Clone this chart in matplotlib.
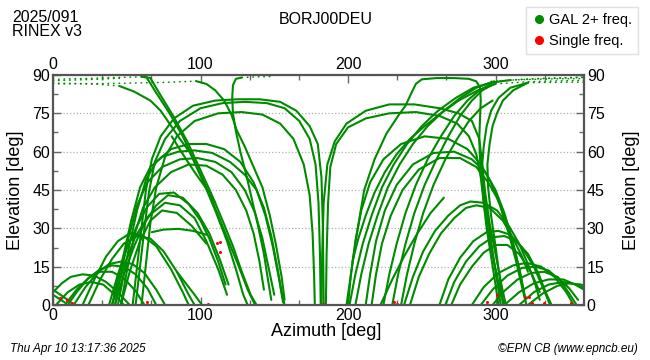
import matplotlib
matplotlib.use("Agg")
import matplotlib.pyplot as plt
from matplotlib.lines import Line2D
from matplotlib.ticker import MultipleLocator

plt.rcParams['font.family'] = ['Liberation Sans', 'DejaVu Sans']

GREEN = '#008a00'
RED = '#ff0000'

# satellite tracks: (azimuth list, elevation list)
west_low = [
    ([0, 5, 10, 14], [6, 4, 2, 0]),
    ([0, 4, 8], [4, 2.5, 1]),
    ([0, 6, 12, 20, 28, 36, 44, 52], [5, 8.5, 11, 12, 11.5, 9, 5, 0]),
    ([2, 10, 18, 26, 34, 42, 48], [0, 5, 8, 9, 8, 4, 0]),
    ([8, 16, 24, 32, 40, 48, 56, 62], [0, 6, 10.5, 13, 13, 10.5, 5.5, 0]),
    ([10, 16, 24, 32, 40, 48, 56, 64, 70], [0, 5, 10.5, 14, 15.5, 15, 12, 6.5, 0]),
    ([14, 22, 30, 38, 46, 54, 62, 70, 76], [0, 7, 12.5, 16, 17, 16, 12.5, 6, 0]),
    ([24, 32, 40, 48, 57, 66, 75, 84, 92, 96], [0, 10, 18, 24, 27, 26, 21, 13, 4, 0]),
    ([20, 28, 36, 44, 52, 60, 70, 80, 88, 92], [0, 10, 19, 25, 28, 27.5, 23, 14, 5, 0]),
    ([67, 75, 85, 95, 104], [28.5, 29.5, 29.8, 29, 27.5]),
    ([84, 90, 96, 101], [13, 8.5, 4, 0]),
]

west_mid = [
    ([38, 44, 50, 57, 64, 72, 82, 92, 100, 106, 112, 117], [0, 12, 22, 31, 38.5, 43.5, 44, 39.5, 33, 26, 17, 8]),
    ([42, 48, 55, 62, 70, 78, 88, 98, 106, 113, 119], [0, 12, 23, 32, 39, 43, 42, 36, 28, 18, 8]),
    ([40, 48, 56, 65, 76, 86, 96, 104, 112, 118], [0, 15, 27, 35, 40, 39, 34, 25, 14, 4]),
    ([46, 52, 59, 66, 74, 84, 94, 104], [0, 13, 25, 33, 37, 36, 31, 24]),
]

west_high = [
    ([40, 44, 48, 53, 59, 66, 74, 85, 96, 108, 120, 130, 138, 144, 149, 153, 156],
     [0, 10, 20, 33, 46, 54, 58, 60, 60.5, 59.5, 56, 51, 45, 35, 23, 11, 1]),
    ([44, 48, 52, 57, 63, 70, 80, 92, 104, 116, 127, 136, 143, 148, 152, 155, 157],
     [0, 12, 24, 37, 49, 56, 61, 63, 63, 61, 56, 48, 38, 27, 15, 5, 0]),
    ([42, 46, 51, 57, 64, 74, 86, 98, 110, 121, 130, 137, 142, 146, 150],
     [0, 12, 26, 39, 48, 54, 57, 57.5, 56, 52, 45, 36, 26, 15, 4]),
    ([46, 50, 55, 61, 69, 80, 92, 104, 115, 124, 131, 136, 140, 143],
     [0, 13, 27, 38, 46, 52, 55, 54.5, 51, 45, 37, 28, 17, 6]),
    ([54, 57, 60, 63, 67, 73, 82, 95, 110, 125, 140, 154, 165, 174, 179.5, 182, 183, 183.5],
     [0, 15, 30, 45, 57, 66, 73, 78, 80, 80.5, 80.5, 79.5, 76, 70, 63, 50, 30, 0]),
    ([56, 59, 62, 65, 69, 76, 86, 100, 115, 130, 145, 157, 167, 174, 178, 180, 181, 181.5],
     [0, 15, 30, 44, 56, 65, 72, 77, 79, 79.5, 79, 77, 72, 65, 55, 40, 20, 0]),
    ([60, 63, 66, 70, 76, 84, 96, 112, 128, 142, 154, 163, 170, 174, 176, 177, 177.5],
     [0, 16, 32, 46, 58, 66, 72, 75, 75.5, 74.5, 71, 65, 55, 43, 28, 12, 0]),
]

west_steep = [
    ([60, 63.5, 70, 79, 88, 96, 104, 112, 119, 126, 132, 137], [89.3, 89, 83, 75, 66, 56, 46, 35, 25, 15, 6, 0]),
    ([62, 66, 73, 82, 91, 99, 107, 115, 122, 128, 134, 138], [89.3, 88.8, 82, 73.5, 64, 54, 44, 33, 23, 13, 4, 0]),
    ([80.5, 88, 96, 104, 110], [66, 59, 52, 45.5, 40]),
    ([45, 55, 66, 73, 79, 86, 93, 102, 110, 118, 124, 129, 132], [85.7, 83.5, 80, 76, 71, 65, 59.5, 48, 37, 25, 14, 4, 0]),
    ([97, 104, 110, 116, 121, 124.5, 130, 136, 142, 147, 151, 155, 157], [87.6, 86.5, 84, 80, 74.5, 68.5, 62, 54, 46, 35, 24, 11, 2]),
    ([128, 124, 122, 121.5, 122, 124, 127, 131, 135, 139, 143, 146, 148], [89, 88.5, 86, 81, 75, 68, 60, 51, 41, 31, 20, 9, 2]),
]

east_high = [
    ([182, 182.5, 183.5, 186, 191, 199, 212, 228, 245, 262, 275, 284, 289, 291, 293, 296, 300, 304, 307],
     [0, 20, 40, 55, 64, 71, 76, 78.5, 78.5, 77, 75, 72, 65, 55, 44, 32, 20, 8, 0]),
    ([185, 185.5, 186.5, 188, 192, 200, 212, 228, 246, 262, 274, 282, 287, 290, 292, 295, 299, 303, 306],
     [0, 20, 40, 54, 63, 69.5, 73, 75, 75.5, 74, 71, 66, 59, 50, 40, 29, 17, 6, 0]),
    ([200, 202, 205, 209, 215, 224, 236, 252, 268, 281, 290, 297, 303, 309, 314, 318, 321],
     [0, 12, 25, 37, 48, 57, 63, 66, 65, 61, 55, 48, 39, 28, 17, 7, 0]),
    ([212, 215, 219, 225, 233, 244, 258, 272, 284, 293, 300, 306, 311, 316, 320],
     [0, 12, 25, 37, 47, 55, 59.5, 60, 57, 52, 45, 36, 26, 14, 3]),
    ([216, 219, 223, 229, 237, 248, 262, 276, 287, 295, 302, 308, 313, 317, 320],
     [0, 12, 24, 35, 45, 53, 57.5, 57.5, 54, 48, 41, 32, 22, 12, 3]),
]

east_mid = [
    ([238, 244, 251, 259, 268, 276, 283, 292, 301, 309, 316, 322, 327, 330], [0, 11, 21, 29, 35, 39, 40.5, 40, 37, 31, 24, 16, 8, 2]),
    ([242, 248, 255, 263, 272, 280, 287, 296, 305, 312, 318, 322], [0, 11, 20, 28, 34, 38, 39, 38, 33, 26, 19, 13]),
    ([222, 230, 238, 247, 256, 265], [0, 10, 19, 28, 36, 42]),
]

east_low = [
    ([262, 268, 276, 285, 294, 302, 310, 318, 326, 332, 337], [0, 10, 18.5, 25, 28.5, 29, 27.5, 22.5, 15, 7, 0]),
    ([266, 272, 280, 289, 298, 306, 314, 322, 329, 334, 338], [0, 9, 17, 23, 26.5, 27, 25, 20, 12.5, 5, 0]),
    ([270, 276, 284, 292, 300, 308, 316, 324, 330], [0, 8, 15, 20.5, 23.5, 23.5, 20, 13, 5]),
    ([284, 292, 302, 312, 321, 331, 340, 348, 353], [0, 7, 12.5, 15.5, 16.5, 15, 11, 5, 0]),
    ([290, 298, 308, 318, 327, 336, 344, 350, 355], [0, 6, 11.5, 14.5, 15, 13.5, 9.5, 4.5, 0]),
    ([298, 306, 315, 324, 333, 342, 350, 356], [0, 5.5, 10, 12.5, 13, 11, 6.5, 2]),
    ([306, 316, 326, 336, 346, 354, 360], [0, 5, 8.5, 10, 10, 8, 6]),
    ([316, 326, 336, 346, 355, 360], [0, 5, 8, 9, 8, 6.5]),
    ([322, 332, 342, 350, 358, 360], [0, 4.5, 7.5, 8.5, 8, 7.5]),
]

east_steep = [
    ([201, 205, 210, 216, 223, 231, 240, 250, 261, 273, 285, 297, 310], [0, 12, 24, 35, 46, 55, 63, 70, 76, 81, 85, 87, 88]),
    ([205, 209, 214, 220, 227, 235, 244, 254, 265, 276, 287, 299], [0, 12, 24, 35, 46, 55, 63, 70, 76, 81, 85, 87.5]),
    ([203, 207, 212, 218, 225, 233, 242, 252, 263, 275, 288, 300], [17, 26, 35, 44, 52, 59, 65, 70, 75, 80, 84, 86.5]),
    ([224, 228, 233, 239, 246, 254, 263, 272, 281, 289, 297], [0, 12, 24, 36, 47, 57, 66, 74, 80, 84, 86.5]),
    ([230, 234, 239, 245, 252, 260, 268, 276, 284, 291, 299], [0, 12, 24, 36, 47, 57, 66, 74, 80, 84, 86.5]),
    ([236, 240, 245, 251, 258, 266, 274, 282, 290, 298], [0, 12, 24, 36, 47, 57, 65, 72, 77, 80]),
    ([199, 202, 206, 211, 218, 226, 234, 239, 243, 246, 250, 260, 272, 282, 287, 289.5, 290, 289.5, 289, 289.5, 291, 293, 296, 299, 302, 303.5],
     [0, 12, 28, 45, 57, 67, 74, 78, 83, 86.5, 88.3, 88.8, 88.8, 88.5, 87.5, 85, 80, 73, 65, 57, 49, 40, 29, 17, 6, 0]),
    ([322, 310, 302, 297, 294, 292, 291, 291, 292, 294, 297, 300, 302], [87, 85, 81, 76, 70, 62, 55, 48, 40, 30, 19, 8, 0]),
    ([322, 312, 305, 301, 298, 296, 294.5, 295, 297, 300, 303, 305], [87, 84, 80, 75, 70, 63, 55, 46, 35, 23, 10, 0]),
]

# near-zenith parts, drawn as sparse dots
zenith_tracks = [
    ([0, 10, 20, 30, 40, 50, 60], [88.3, 88.5, 88.6, 88.8, 89, 89.1, 89.3]),
    ([0, 12, 24, 36, 45], [87.8, 88, 88.2, 88.5, 88.7]),
    ([0, 15, 30, 45], [86.8, 86.7, 86.4, 85.7]),
    ([0, 25, 50, 75, 97], [86.5, 86.6, 86.8, 87.1, 87.6]),
    ([128, 135, 142, 148], [89, 89.2, 89.3, 89.4]),
    ([297, 310, 325, 340, 360], [87.5, 88, 88.3, 88.5, 88.6]),
    ([299, 315, 330, 345, 360], [87.5, 88.2, 88.6, 88.8, 89]),
    ([310, 325, 340, 360], [88, 88.5, 88.8, 89.2]),
    ([300, 320, 335, 350, 360], [86.5, 87.3, 87.6, 87.8, 87.9]),
    ([322, 335, 350, 360], [87, 87.1, 87.2, 87.2]),
]

single_az = [4.5, 9.4, 13, 64, 105, 111, 113, 113, 183, 231.5, 233.5, 294.5, 301, 320, 323, 324.5, 333, 351]
single_el = [2.7, 2, 0.8, 1, 0.3, 24.3, 24.6, 20.7, 0.5, 1, 0.4, 1, 4, 3, 3, 0.8, 0.8, 0.8]

x_major = [0, 100, 200, 300]
y_major = [0, 15, 30, 45, 60, 75, 90]

fig = plt.figure(figsize=(6.5, 3.6), dpi=100)
ax = fig.add_axes([53 / 650, 55 / 360, 531 / 650, 230 / 360])

for group in [west_low, west_mid, west_high, west_steep, east_high, east_mid, east_low, east_steep]:
    for az, el in group:
        ax.plot(az, el, color=GREEN, lw=1.5, solid_capstyle='round', solid_joinstyle='round')

for az, el in zenith_tracks:
    ax.plot(az, el, color=GREEN, lw=1.1, ls=(0, (0.4, 3.2)), dash_capstyle='round')

ax.plot(single_az, single_el, 'o', color=RED, ms=2.2, mew=0, clip_on=False)

ax.set_xlim(0, 360)
ax.set_ylim(0, 90)
ax.set_xticks(x_major)
ax.set_yticks(y_major)
ax.xaxis.set_minor_locator(MultipleLocator(100 / 3))
ax.yaxis.set_minor_locator(MultipleLocator(7.5))
ax.tick_params(which='both', direction='in', top=True, right=True, labeltop=True, labelright=True,
               colors='#666666', labelcolor='black', labelsize=11.5, pad=2)
ax.tick_params(which='major', length=6, width=1)
ax.tick_params(which='minor', length=3.5, width=1)
ax.yaxis.grid(True, ls=':', color='#b0b0b0', lw=0.9)
for s in ax.spines.values():
    s.set_color('#555555')
    s.set_linewidth(1.6)

fig.text(16 / 650, 1 - 190 / 360, 'Elevation [deg]', rotation=90, ha='center', va='center', fontsize=13)
fig.text(632 / 650, 1 - 190 / 360, 'Elevation [deg]', rotation=90, ha='center', va='center', fontsize=13)
fig.text(326 / 650, 1 - 331 / 360, 'Azimuth [deg]', ha='center', va='center', fontsize=13)

fig.text(12 / 650, 1 - 17 / 360, '2025/091', ha='left', va='center', fontsize=11.5)
fig.text(12 / 650, 1 - 32 / 360, 'RINEX v3', ha='left', va='center', fontsize=11.5)
fig.text(326 / 650, 1 - 20 / 360, 'BORJ00DEU', ha='center', va='center', fontsize=11.5)

fig.text(10 / 650, 1 - 349 / 360, 'Thu Apr 10 13:17:36 2025', ha='left', va='center', fontsize=8.5, style='italic')
fig.text(638 / 650, 1 - 349 / 360, '\u00a9EPN CB (www.epncb.eu)', ha='right', va='center', fontsize=8.5, style='italic')

handles = [Line2D([], [], ls='none', marker='o', color=GREEN, ms=5.5),
           Line2D([], [], ls='none', marker='o', color=RED, ms=5.5)]
fig.legend(handles, ['GAL 2+ freq.', 'Single freq.'], loc='upper right', bbox_to_anchor=(638 / 650, 1 - 7 / 360),
           fontsize=10.5, frameon=True, fancybox=False, edgecolor='#e0e0e0', framealpha=1,
           handletextpad=0.2, handlelength=1.0, borderpad=0.4, labelspacing=0.5, borderaxespad=0)

fig.savefig('out.png', dpi=100)
